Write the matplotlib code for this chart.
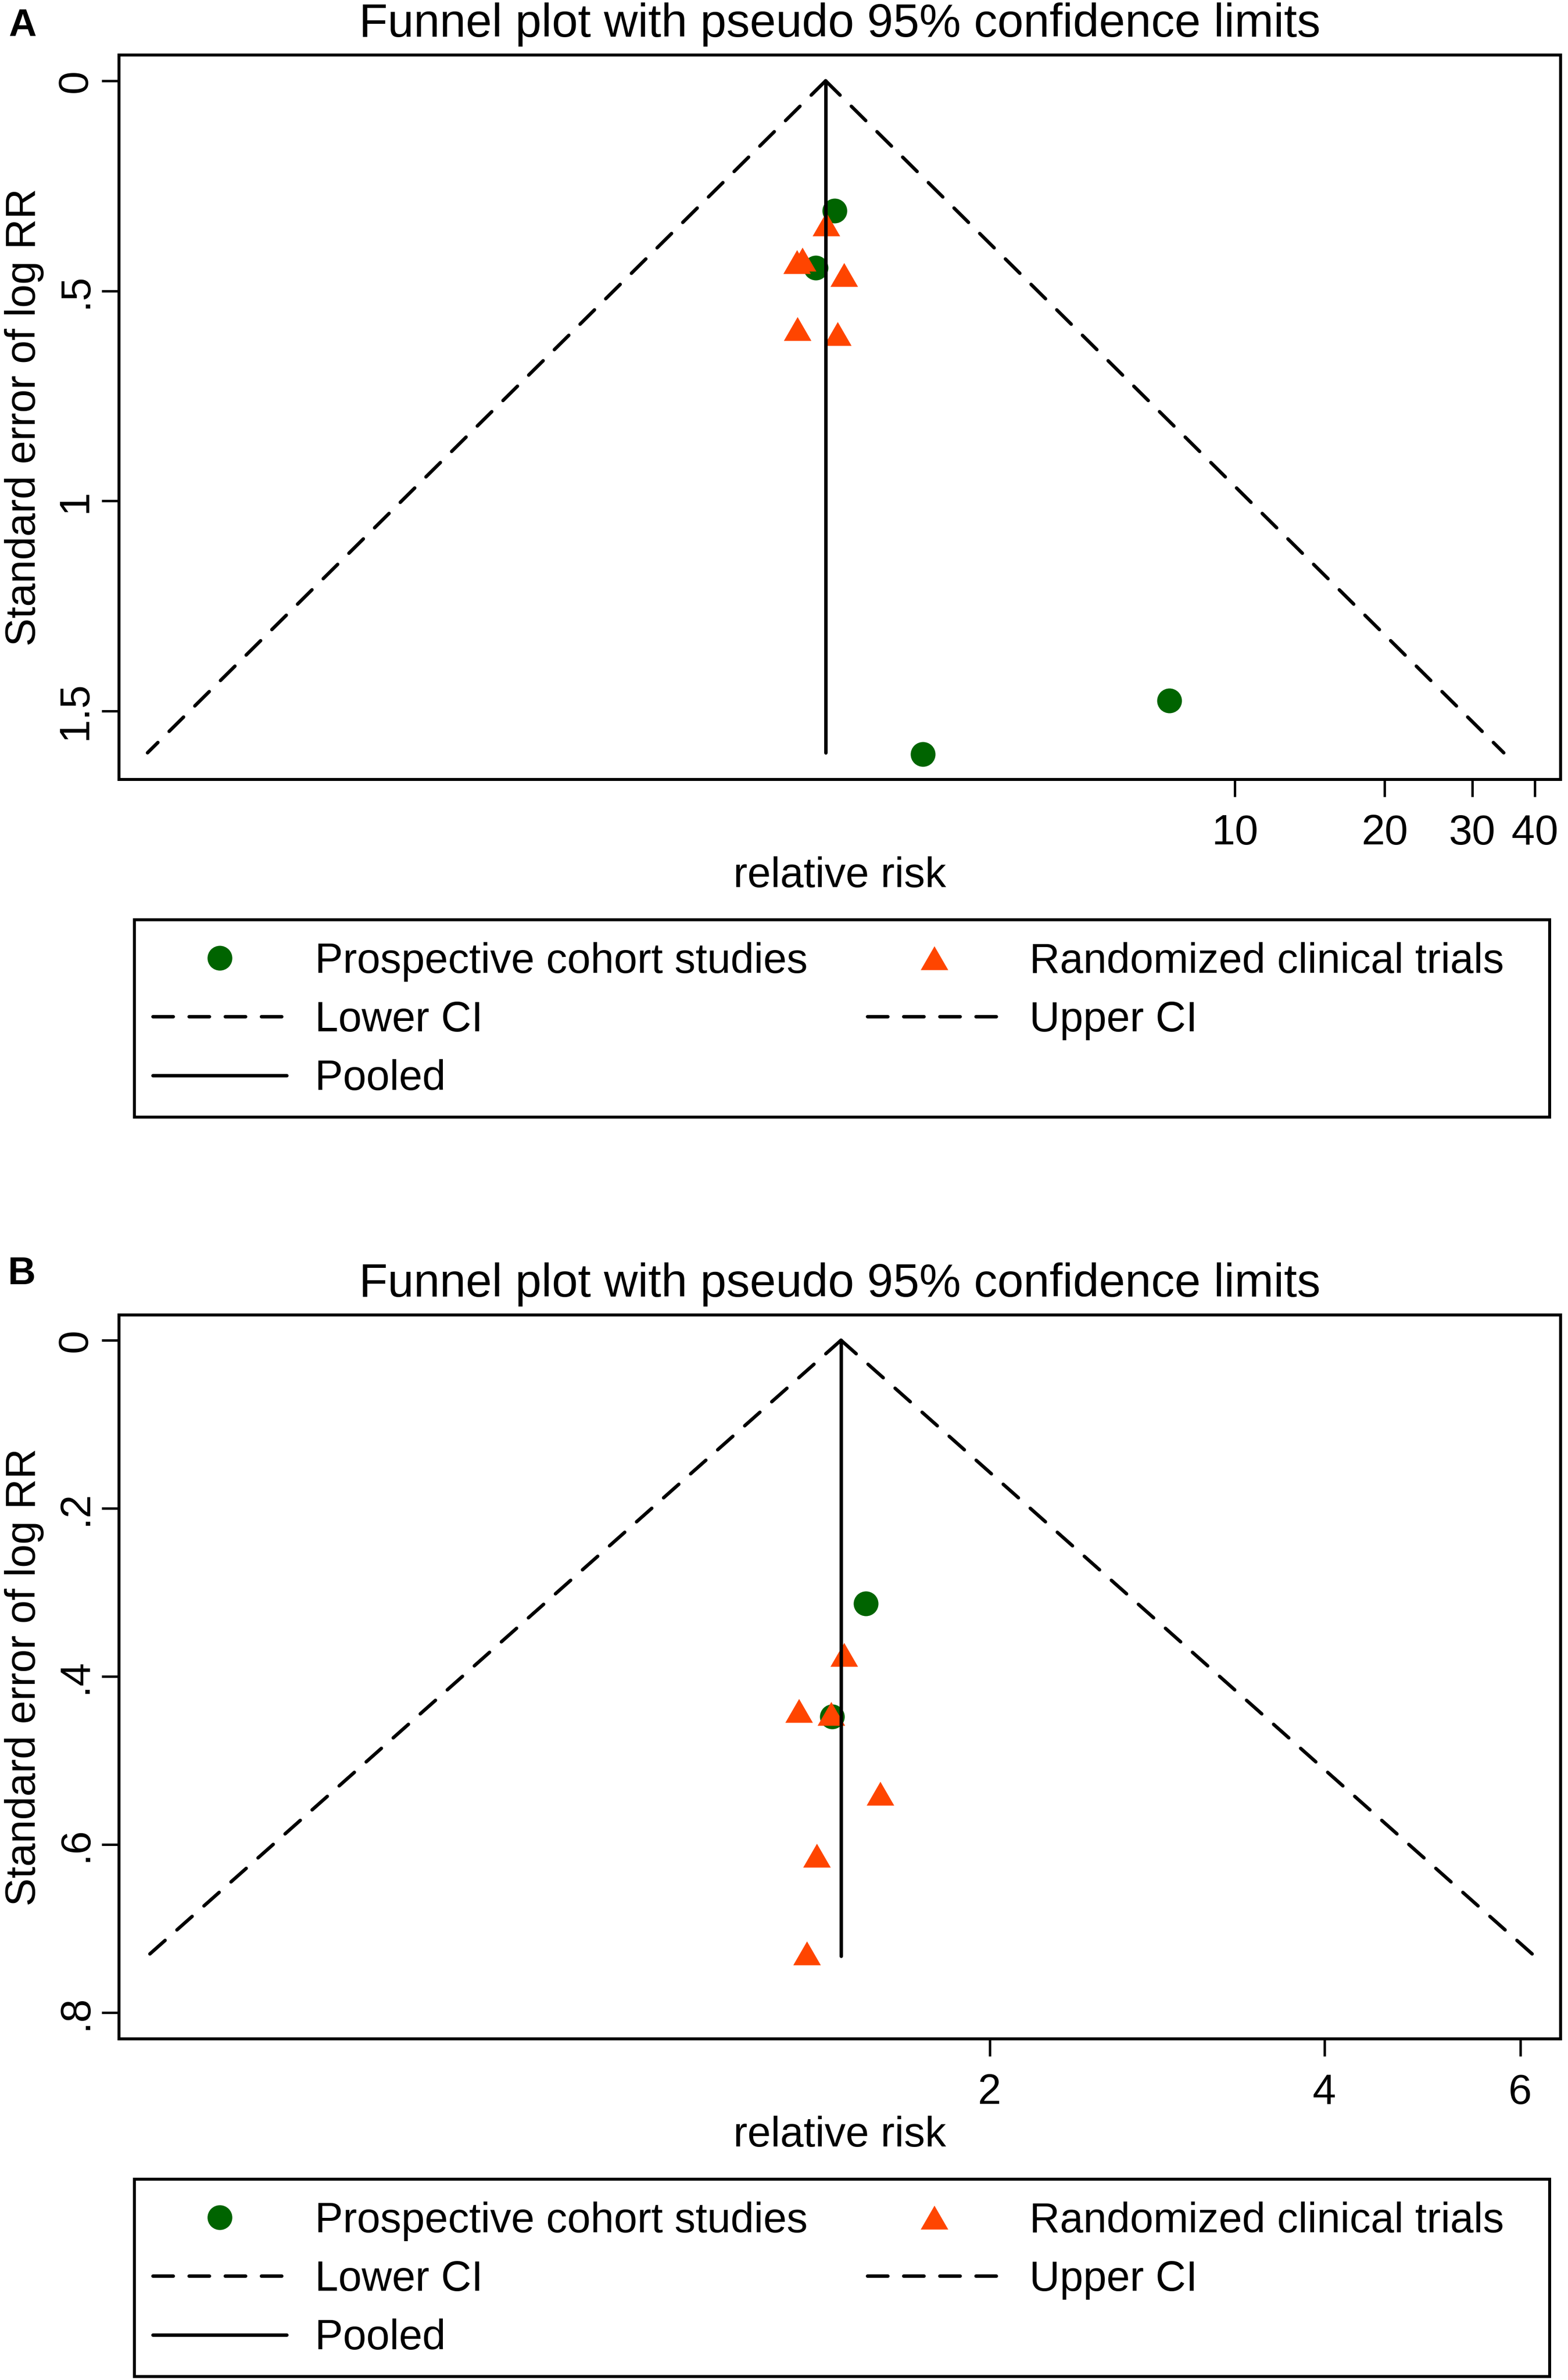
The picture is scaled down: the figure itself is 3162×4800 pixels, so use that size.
import numpy as np
import matplotlib
matplotlib.use('Agg')
import matplotlib.pyplot as plt
from matplotlib.patches import Rectangle
from matplotlib.path import Path
from matplotlib.ticker import NullLocator

plt.rcParams['font.family'] = ['Liberation Sans', 'DejaVu Sans']
plt.rcParams['lines.scale_dashes'] = False

# ---------------- data ----------------
# Panel A
a_cohort_rr = [1.571, 1.440, 2.363, 7.39]
a_cohort_se = [0.309, 0.445, 1.603, 1.476]
a_trial_rr = [1.511, 1.320, 1.353, 1.641, 1.323, 1.593]
a_trial_se = [0.341, 0.431, 0.425, 0.462, 0.590, 0.602]
a_pooled_rr = 1.507
a_se_max = 1.600
a_xticks = [10, 20, 30, 40]
a_xticklabels = ['10', '20', '30', '40']
a_yticks = [0, 0.5, 1.0, 1.5]
a_yticklabels = ['0', '.5', '1', '1.5']
a_xlim = (0.0574, 45.1)
a_ylim = (1.6635, -0.0614)

# Panel B
b_cohort_rr = [1.547, 1.443]
b_cohort_se = [0.313, 0.448]
b_trial_rr = [1.479, 1.347, 1.440, 1.595, 1.398, 1.370]
b_trial_se = [0.374, 0.441, 0.444, 0.539, 0.613, 0.729]
b_pooled_rr = 1.470
b_se_max = 0.733
b_xticks = [2, 4, 6]
b_xticklabels = ['2', '4', '6']
b_yticks = [0, 0.2, 0.4, 0.6, 0.8]
b_yticklabels = ['0', '.2', '.4', '.6', '.8']
b_xlim = (0.3296, 6.523)
b_ylim = (0.8313, -0.0301)

title_text = 'Funnel plot with pseudo 95% confidence limits'
xlabel_text = 'relative risk'
ylabel_text = 'Standard error of log RR'
legend_labels = ['Prospective cohort studies', 'Randomized clinical trials',
                 'Lower CI', 'Upper CI', 'Pooled']
z95 = 1.96

# ---------------- style ----------------
W, H = 3162, 4800
DPI = 100
GREEN = '#006400'
ORANGE = '#FF4500'
FS = 61
TITLE_FS = 68
LW_AX = 4.3
LW_LINE = 5.0
DASH = (0, (29.5, 23.0))
tri = Path([(-1, -0.866), (1, -0.866), (0, 0.866), (-1, -0.866)],
           [Path.MOVETO, Path.LINETO, Path.LINETO, Path.CLOSEPOLY])

fig = plt.figure(figsize=(W / DPI, H / DPI), dpi=DPI)


def px_to_fig(x0, y0, x1, y1):
    return [x0 / W, 1 - y1 / H, (x1 - x0) / W, (y1 - y0) / H]


def panel(rect, letter, letter_xy, cohort_rr, cohort_se, trial_rr, trial_se,
          pooled, se_max, xticks, xticklabels, yticks, yticklabels, xlim, ylim,
          legend_top, legend_box):
    ax = fig.add_axes(px_to_fig(*rect))
    ax.set_xscale('log')

    se_line = np.array([0.0, se_max])
    lower = pooled * np.exp(-z95 * se_line)
    upper = pooled * np.exp(z95 * se_line)

    h_c, = ax.plot(cohort_rr, cohort_se, linestyle='none', marker='o',
                   markersize=36, color=GREEN, markeredgewidth=0, zorder=2)
    h_t, = ax.plot(trial_rr, trial_se, linestyle='none', marker=tri,
                   markersize=40, color=ORANGE, markeredgewidth=0, zorder=3)
    h_l, = ax.plot(lower, se_line, color='black', lw=LW_LINE, linestyle=DASH,
                   dash_capstyle='round', zorder=4)
    h_u, = ax.plot(upper, se_line, color='black', lw=LW_LINE, linestyle=DASH,
                   dash_capstyle='round', zorder=4)
    h_p, = ax.plot([pooled, pooled], se_line, color='black', lw=LW_LINE,
                   solid_capstyle='round', zorder=4)

    ax.set_xlim(*xlim)
    ax.set_ylim(*ylim)
    ax.set_xticks(xticks)
    ax.set_xticklabels(xticklabels)
    ax.xaxis.set_minor_locator(NullLocator())
    ax.set_yticks(yticks)
    ax.set_yticklabels(yticklabels)
    ax.yaxis.set_minor_locator(NullLocator())
    ax.tick_params(axis='both', which='major', length=25, width=3.5,
                   labelsize=FS, direction='out')
    ax.tick_params(axis='x', pad=25)
    ax.tick_params(axis='y', pad=9)
    for lab in ax.get_yticklabels():
        lab.set_rotation(90)
        lab.set_va('center')
        lab.set_ha('right')
    for sp in ax.spines.values():
        sp.set_linewidth(LW_AX)

    # labels
    ax.set_xlabel(xlabel_text, fontsize=FS)
    ax.xaxis.label.set_va('baseline')
    ax.xaxis.set_label_coords(0.5, -0.1485)
    ax.set_ylabel(ylabel_text, fontsize=FS, rotation=90)
    ax.yaxis.label.set_rotation_mode('anchor')
    ax.yaxis.label.set_va('baseline')
    ax.yaxis.set_label_coords(-0.0581, 0.5)

    ax.text(0.5, 1.0253, title_text, transform=ax.transAxes, ha='center',
            va='baseline', fontsize=TITLE_FS)
    fig.text(letter_xy[0] / W, 1 - letter_xy[1] / H, letter, fontsize=56,
             fontweight='bold', ha='left', va='baseline')

    # legend (column-major order for 2 columns)
    handles = [h_c, h_l, h_p, h_t, h_u]
    labels = [legend_labels[0], legend_labels[2], legend_labels[4],
              legend_labels[1], legend_labels[3]]
    ax.legend(handles, labels, ncol=2, loc='upper left',
              bbox_to_anchor=(308 / W, 1 - legend_top / H),
              bbox_transform=fig.transFigure, frameon=False, fontsize=FS,
              borderpad=0, borderaxespad=0, handlelength=3.19,
              handletextpad=0.67, columnspacing=1.42, labelspacing=0.45,
              numpoints=1)
    x0, y0, x1, y1 = legend_box
    fig.patches.append(Rectangle((x0 / W, 1 - y1 / H), (x1 - x0) / W,
                                 (y1 - y0) / H, transform=fig.transFigure,
                                 fill=False, lw=LW_AX, edgecolor='black'))
    return ax


panel((240, 111, 3147, 1572), 'A', (17, 72), a_cohort_rr, a_cohort_se,
      a_trial_rr, a_trial_se, a_pooled_rr, a_se_max, a_xticks, a_xticklabels,
      a_yticks, a_yticklabels, a_xlim, a_ylim, 1900, (271, 1855, 3125, 2253))
panel((240, 2652, 3147, 4112), 'B', (16, 2590), b_cohort_rr, b_cohort_se,
      b_trial_rr, b_trial_se, b_pooled_rr, b_se_max, b_xticks, b_xticklabels,
      b_yticks, b_yticklabels, b_xlim, b_ylim, 4440, (271, 4395, 3125, 4793))

fig.savefig('out.png', dpi=DPI, facecolor='white')
